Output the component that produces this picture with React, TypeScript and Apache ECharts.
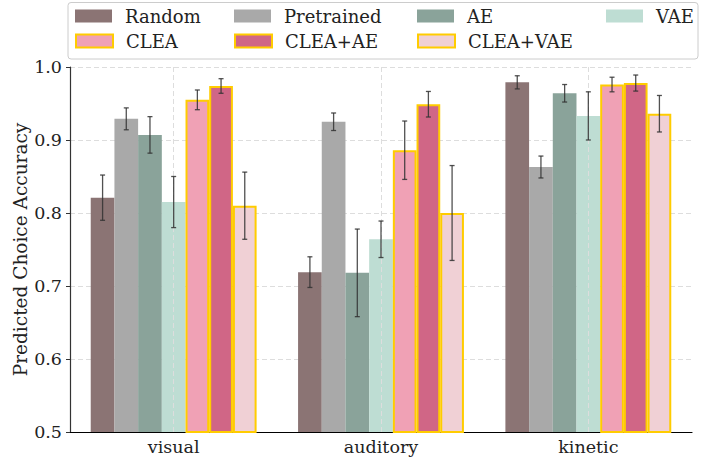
import React, { useEffect, useRef } from "react";
import * as echarts from "echarts";

const categories = ["visual", "auditory", "kinetic"];
const seriesNames = ["Random", "Pretrained", "AE", "VAE", "CLEA", "CLEA+AE", "CLEA+VAE"];

const randomVals = [0.821, 0.719, 0.979];
const randomErr = [0.031, 0.021, 0.009];
const pretrainedVals = [0.929, 0.925, 0.863];
const pretrainedErr = [0.015, 0.012, 0.015];
const aeVals = [0.907, 0.718, 0.964];
const aeErr = [0.025, 0.06, 0.012];
const vaeVals = [0.815, 0.764, 0.933];
const vaeErr = [0.035, 0.025, 0.033];
const cleaVals = [0.955, 0.886, 0.976];
const cleaErr = [0.0135, 0.04, 0.01];
const cleaAeVals = [0.974, 0.949, 0.978];
const cleaAeErr = [0.01, 0.0175, 0.011];
const cleaVaeVals = [0.81, 0.8, 0.936];
const cleaVaeErr = [0.046, 0.065, 0.025];

const yTicks = [0.5, 0.6, 0.7, 0.8, 0.9, 1.0];

const allVals = [randomVals, pretrainedVals, aeVals, vaeVals, cleaVals, cleaAeVals, cleaVaeVals];
const allErr = [randomErr, pretrainedErr, aeErr, vaeErr, cleaErr, cleaAeErr, cleaVaeErr];
const colors = ["#8B7474", "#A9A9A9", "#8AA39A", "#BEDDD3", "#F0A1B5", "#D06686", "#F0D0D5"];
const bordered = [false, false, false, false, true, true, true];
const GOLD = "#FFCC00";
const FONT = "'DejaVu Serif', serif";

export default function App() {
  const ref = useRef<HTMLDivElement>(null);
  useEffect(() => {
    if (!ref.current) return;
    const chart = echarts.init(ref.current, undefined, { renderer: "svg" });
    const nSeries = seriesNames.length;
    const barSeries = seriesNames.map((name, i) => ({
      name,
      type: "bar",
      data: allVals[i],
      barGap: "0%",
      barCategoryGap: "20%",
      z: 3,
      itemStyle: {
        color: colors[i],
        borderColor: bordered[i] ? GOLD : colors[i],
        borderWidth: bordered[i] ? 2 : 0,
      },
    }));
    const errData: number[][] = [];
    for (let s = 0; s < nSeries; s++) {
      for (let c = 0; c < categories.length; c++) {
        errData.push([c, allVals[s][c], allErr[s][c], s]);
      }
    }
    const colX = [75, 234, 417, 606];
    const rowY = [7, 32];
    const legends = seriesNames.map((n, i) => ({
      data: [n],
      left: colX[i % 4],
      top: rowY[Math.floor(i / 4)],
      padding: 0,
      itemWidth: 37,
      itemHeight: 13,
      icon: "rect",
      selectedMode: false,
      textStyle: { fontFamily: FONT, fontSize: 18, color: "#222", padding: [0, 0, 0, 8] },
    }));
    chart.setOption({
      animation: false,
      backgroundColor: "#fff",
      grid: { left: 70, right: 14, top: 67, bottom: 31, containLabel: false, outerBoundsMode: "none" },
      legend: legends,
      graphic: [
        {
          type: "rect",
          shape: { x: 68, y: 2.5, width: 630, height: 56.5, r: 3 },
          style: { fill: "rgba(255,255,255,0.8)", stroke: "#cccccc", lineWidth: 1 },
          z: -1,
          silent: true,
        },
      ],
      xAxis: {
        type: "category",
        data: categories,
        axisLine: { lineStyle: { color: "#000", width: 1.2 } },
        axisTick: { alignWithLabel: true, length: 5, lineStyle: { color: "#333" } },
        axisLabel: { fontFamily: FONT, fontSize: 17.5, color: "#222", margin: 6 },
        splitLine: { show: false },
      },
      yAxis: {
        type: "value",
        min: 0.5,
        max: 1.0,
        interval: 0.1,
        name: "Predicted Choice Accuracy",
        nameLocation: "middle",
        nameGap: 40,
        nameMoveOverlap: false,
        nameTextStyle: { fontFamily: FONT, fontSize: 18.5, color: "#222" },
        axisLine: { show: true, lineStyle: { color: "#333", width: 1.2 } },
        axisTick: { show: true, length: 4, lineStyle: { color: "#333" } },
        axisLabel: {
          fontFamily: FONT,
          fontSize: 17.5,
          color: "#222",
          margin: 8,
          formatter: (v: number) => (yTicks.includes(Math.round(v * 10) / 10) ? v.toFixed(1) : ""),
        },
        splitLine: { show: true, lineStyle: { color: "#dddddd", type: [5, 3], width: 1 } },
      },
      series: [
        {
          name: "_vgrid",
          type: "line",
          data: [],
          z: 1,
          silent: true,
          markLine: {
            symbol: "none",
            silent: true,
            label: { show: false },
            lineStyle: { color: "#dddddd", type: [5, 3], width: 1 },
            data: categories.map((c) => ({ xAxis: c })),
          },
        },
        ...barSeries,
        {
          name: "_err",
          type: "custom",
          z: 10,
          silent: true,
          data: errData,
          encode: { x: 0, y: 1 },
          renderItem: (params: any, api: any) => {
            const c = api.value(0);
            const v = api.value(1);
            const e = api.value(2);
            const s = api.value(3);
            const band = api.size([1, 0])[0];
            const bw = (band * 0.8) / nSeries;
            const cx = api.coord([c, v])[0] + (s - (nSeries - 1) / 2) * bw;
            const yTop = api.coord([c, v + e])[1];
            const yBot = api.coord([c, v - e])[1];
            const cap = 2.5;
            const style = { stroke: "rgba(50,50,50,0.85)", lineWidth: 1.3 };
            return {
              type: "group",
              children: [
                { type: "line", shape: { x1: cx, y1: yTop, x2: cx, y2: yBot }, style },
                { type: "line", shape: { x1: cx - cap, y1: yTop, x2: cx + cap, y2: yTop }, style },
                { type: "line", shape: { x1: cx - cap, y1: yBot, x2: cx + cap, y2: yBot }, style },
              ],
            };
          },
        },
      ],
    });
    return () => chart.dispose();
  }, []);
  return <div ref={ref} style={{ width: 706, height: 463, position: "absolute", left: 0, top: 0 }} />;
}
